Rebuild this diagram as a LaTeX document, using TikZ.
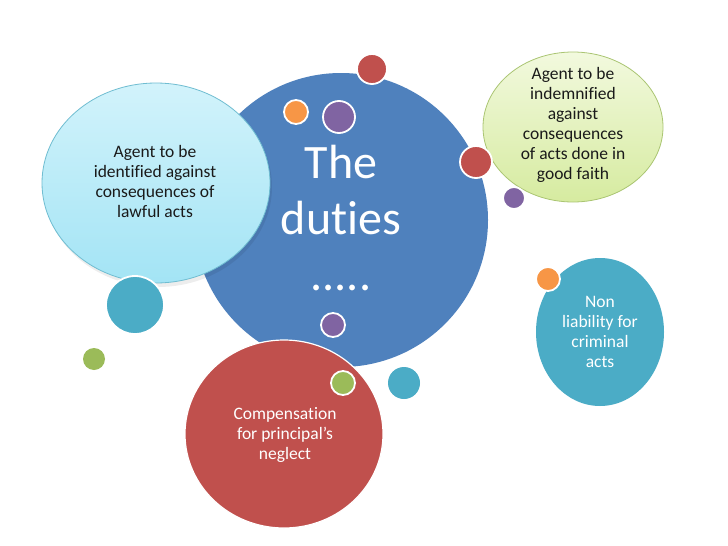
\documentclass[tikz,border=0pt]{standalone}
\usepackage{fontspec}
\setmainfont{Carlito}[Ligatures=NoCommon]
\usetikzlibrary{positioning}
\definecolor{dutyBlue}{HTML}{4F81BD}
\definecolor{dutyRed}{HTML}{C0504D}
\definecolor{dutyGreen}{HTML}{9BBB59}
\definecolor{dutyPurple}{HTML}{8064A2}
\definecolor{dutyTeal}{HTML}{4BACC6}
\definecolor{dutyOrange}{HTML}{F79646}
\definecolor{dutyIceTop}{HTML}{D2F3FB}
\definecolor{dutyIceBot}{HTML}{A3E4F5}
\definecolor{dutyLimeTop}{HTML}{F2F9DE}
\definecolor{dutyLimeBot}{HTML}{D6EBA0}
\definecolor{dutyInk}{HTML}{1A1A1A}

\begin{document}
\begin{tikzpicture}[x=1pt,y=-1pt,line cap=round,line join=round]
\path[fill=white] (0,0) rectangle (728,546);
\tikzset{dot/.style={draw=white,line width=1.8pt},bigbub/.style={draw=white,line width=1.2pt},label/.style={align=center,font=\fontsize{17.5}{20}\selectfont}}
% main circle
\path[fill=dutyBlue] (341,220) circle[radius=147];
\node[text=white,align=center,font=\fontsize{48}{56}\selectfont] (duties) at (341,218) {The\\duties\\.....};
% left bubble
\path[fill=black,opacity=.07] (158,187) ellipse[x radius=114,y radius=100];
\path[top color=dutyIceTop,bottom color=dutyIceBot,draw=dutyTeal!80,line width=.8pt] (156,183) ellipse[x radius=114,y radius=100];
\node[label,text=dutyInk] (lawful) at (155,181) {Agent to be\\identified against\\consequences of\\lawful acts};
% right bubble
\path[top color=dutyLimeTop,bottom color=dutyLimeBot,draw=dutyGreen!85,line width=.8pt] (573,127) ellipse[x radius=90,y radius=75];
\node[label,text=dutyInk] (faith) at (573,125) {Agent to be\\indemnified\\against\\consequences\\of acts done in\\good faith};
\path[fill=dutyTeal] (600,332) ellipse[x radius=64,y radius=74];
\node[label,text=white] (criminal) at (600,332) {Non\\liability for\\criminal\\acts};
\path[fill=dutyRed,bigbub] (284,434) ellipse[x radius=99,y radius=94];
\node[label,text=white] (neglect) at (285,435) {Compensation\\for principal’s\\neglect};
% small dots
\path[fill=dutyRed,dot] (372,69) circle[radius=15];
\path[fill=dutyOrange,dot] (296,112) circle[radius=12];
\path[fill=dutyPurple,dot] (339,117) circle[radius=16];
\path[fill=dutyRed,dot] (476,162) circle[radius=16];
\path[fill=dutyPurple,dot] (514,198) circle[radius=11];
\path[fill=dutyOrange,dot] (548,279) circle[radius=12];
\path[fill=dutyTeal,dot] (135,305) circle[radius=29];
\path[fill=dutyGreen] (94,359) circle[radius=11];
\path[fill=dutyPurple,dot] (333,325) circle[radius=12];
\path[fill=dutyGreen,dot] (343,383) circle[radius=12];
\path[fill=dutyTeal] (404,383) circle[radius=16];
\end{tikzpicture}
\end{document}
